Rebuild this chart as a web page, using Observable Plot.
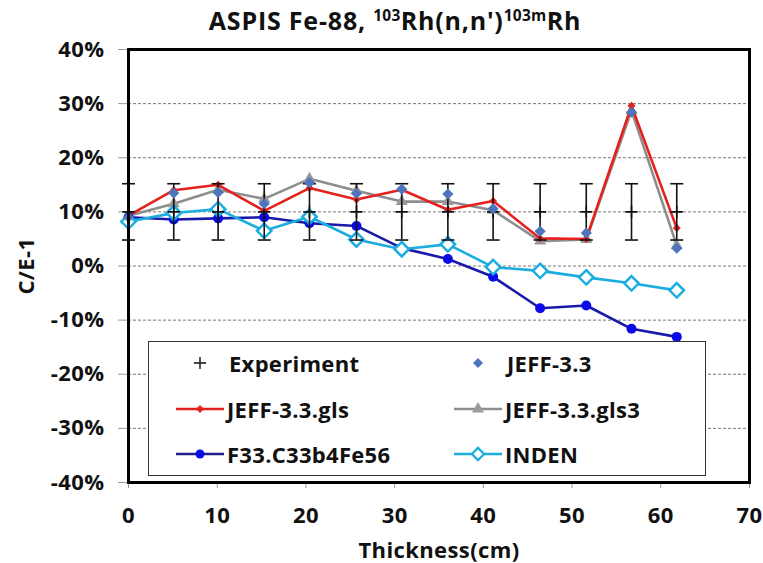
<!DOCTYPE html>
<html>
<head>
<meta charset="utf-8">
<script src="https://cdn.jsdelivr.net/npm/d3@7"></script>
<script src="https://cdn.jsdelivr.net/npm/@observablehq/plot@0.6"></script>
<style>
  body { margin: 0; background: #fff; }
  #wrap { position: relative; width: 763px; height: 563px; font-family: "Open Sans", sans-serif; }
  #title { position: absolute; left: 0; width: 790px; top: 3px; text-align: center; font-weight: 700; font-size: 25px; letter-spacing: 0.8px; color: #111; }
  #title sup { font-size: 0.62em; vertical-align: 0.55em; line-height: 0; letter-spacing: 0.3px; }
  #legend { position: absolute; left: 148px; top: 341px; width: 556px; height: 133px; border: 1.5px solid #333; background: #fff; box-sizing: content-box; }
  .item { position: absolute; display: flex; align-items: center; font-weight: 700; font-size: 22px; letter-spacing: 0.3px; color: #111; height: 30px; }
  .item svg { flex: none; }
  svg text { letter-spacing: 0.4px; }
</style>
</head>
<body>
<div id="wrap">
  <div id="chart"></div>
  <div id="title">ASPIS Fe-88, <sup>103</sup>Rh(n,n')<sup>103m</sup>Rh</div>
  <div id="legend"></div>
</div>
<script>
// Thickness (cm) of each measurement position
const thickness = [0, 5.1, 10.1, 15.3, 20.4, 25.7, 30.8, 36.0, 41.1, 46.4, 51.6, 56.7, 61.8];
// C/E-1 in percent
const experiment    = [10, 10, 10, 10, 10, 10, 10, 10, 10, 10, 10, 10, 10];
const experimentErr = [5.2, 5.2, 5.2, 5.2, 5.2, 5.2, 5.2, 5.2, 5.2, 5.2, 5.2, 5.2, 5.2];
const jeff33     = [9.0, 13.5, 13.6, 11.5, 15.4, 13.4, 14.2, 13.3, 10.6, 6.4, 6.1, 28.4, 3.3];
const jeff33gls  = [9.3, 14.0, 15.0, 10.2, 14.4, 12.3, 14.1, 10.4, 12.0, 5.1, 5.0, 29.6, 7.0];
const jeff33gls3 = [9.3, 11.5, 14.1, 12.4, 16.1, 13.9, 11.9, 11.9, 10.3, 4.6, 4.9, 28.7, 3.8];
const f33        = [9.0, 8.6, 8.8, 9.0, 7.9, 7.4, 3.3, 1.3, -2.0, -7.8, -7.3, -11.6, -13.1];
const inden      = [8.2, 9.8, 10.5, 6.5, 9.1, 4.9, 3.1, 4.0, -0.2, -0.9, -2.1, -3.2, -4.5];

const xTicks = [0, 10, 20, 30, 40, 50, 60, 70];
const yTicks = [-40, -30, -20, -10, 0, 10, 20, 30, 40];
const gridTicks = [-30, -20, -10, 0, 10, 20, 30];

const seriesNames = ["Experiment", "JEFF-3.3", "JEFF-3.3.gls", "JEFF-3.3.gls3", "F33.C33b4Fe56", "INDEN"];

const toRows = (vals) => thickness.map((x, i) => ({x, y: vals[i]}));
const expRows = thickness.map((x, i) => ({x, y: experiment[i], lo: experiment[i] - experimentErr[i], hi: experiment[i] + experimentErr[i]}));

const cap = { draw(ctx, size) { const w = Math.sqrt(size / Math.PI); ctx.moveTo(-w, 0); ctx.lineTo(w, 0); } };

const C = {
  red: "#E5211D", gray: "#8E8E8E", grayMk: "#9A9A9A", jeff: "#4E74BE",
  f33Line: "#1A1AA8", f33Mk: "#0A0AE6", inden: "#1BADE0"
};

const chart = Plot.plot({
  width: 763, height: 563,
  marginLeft: 128, marginRight: 14, marginTop: 49, marginBottom: 81,
  style: { fontFamily: "Open Sans, sans-serif", fontSize: "22px", fontWeight: "700", color: "#111", background: "#fff" },
  x: { domain: [0, 70] },
  y: { domain: [-40, 40] },
  marks: [
    Plot.gridY(gridTicks, { stroke: "#777", strokeOpacity: 1, strokeWidth: 1, strokeDasharray: "3,2" }),
    Plot.axisX(xTicks, { tickSize: 6, tickPadding: 19, stroke: "#999", label: "Thickness(cm)", labelAnchor: "center", labelArrow: "none", labelOffset: 75, fontSize: 22 }),
    Plot.axisY(yTicks, { tickSize: 10, tickPadding: 14, stroke: "#999", tickFormat: d => d + "%", label: "C/E-1", labelAnchor: "center", labelArrow: "none", labelOffset: 110, fontSize: 22 }),
    // lines
    Plot.line(toRows(jeff33gls3), { x: "x", y: "y", stroke: C.gray, strokeWidth: 2.6 }),
    Plot.dot(toRows(jeff33gls3), { x: "x", y: "y", symbol: "triangle", r: 4.5, fill: C.grayMk }),
    Plot.line(toRows(jeff33gls), { x: "x", y: "y", stroke: C.red, strokeWidth: 2.6 }),
    Plot.dot(toRows(jeff33gls), { x: "x", y: "y", symbol: "diamond2", r: 3.6, fill: C.red }),
    Plot.line(toRows(f33), { x: "x", y: "y", stroke: C.f33Line, strokeWidth: 2.6 }),
    Plot.dot(toRows(f33), { x: "x", y: "y", symbol: "circle", r: 5, fill: C.f33Mk }),
    Plot.line(toRows(inden), { x: "x", y: "y", stroke: C.inden, strokeWidth: 2.6 }),
    Plot.dot(toRows(inden), { x: "x", y: "y", symbol: "diamond2", r: 6.5, fill: "#fff", stroke: C.inden, strokeWidth: 2.5 }),
    // experiment
    Plot.ruleX(expRows, { x: "x", y1: "lo", y2: "hi", stroke: "#111", strokeWidth: 1.6 }),
    Plot.dot(expRows, { x: "x", y: "lo", symbol: cap, r: 6.5, stroke: "#111", strokeWidth: 1.6 }),
    Plot.dot(expRows, { x: "x", y: "hi", symbol: cap, r: 6.5, stroke: "#111", strokeWidth: 1.6 }),
    Plot.dot(expRows, { x: "x", y: "y", symbol: "plus", r: 4, stroke: "#111", strokeWidth: 1.6 }),
    // JEFF-3.3 markers only
    Plot.dot(toRows(jeff33), { x: "x", y: "y", symbol: "diamond2", r: 5, fill: C.jeff }),
    Plot.frame({ stroke: "#000", strokeWidth: 3 })
  ]
});
document.getElementById("chart").appendChild(chart);

// Legend
const legendItems = [
  { name: seriesNames[0], col: 0, row: 0, line: null, mk: "plus", fill: "none", stroke: "#111", r: 4 },
  { name: seriesNames[1], col: 1, row: 0, line: null, mk: "diamond2", fill: C.jeff, stroke: "none", r: 4.5 },
  { name: seriesNames[2], col: 0, row: 1, line: C.red, mk: "diamond2", fill: C.red, stroke: "none", r: 3.6 },
  { name: seriesNames[3], col: 1, row: 1, line: C.gray, mk: "triangle", fill: C.grayMk, stroke: "none", r: 4.5 },
  { name: seriesNames[4], col: 0, row: 2, line: "#202088", mk: "circle", fill: C.f33Mk, stroke: "none", r: 4.5 },
  { name: seriesNames[5], col: 1, row: 2, line: C.inden, mk: "diamond2", fill: "#fff", stroke: C.inden, r: 5.5 }
];
const symbolMap = { plus: d3.symbolPlus, diamond2: d3.symbolDiamond2, triangle: d3.symbolTriangle, circle: d3.symbolCircle };
const legend = d3.select("#legend");
legendItems.forEach(it => {
  const div = legend.append("div").attr("class", "item")
    .style("left", (it.col === 0 ? 26 : 304) + "px")
    .style("top", (6 + it.row * 45.5) + "px");
  const svg = div.append("svg").attr("width", 50).attr("height", 30);
  if (it.line) svg.append("line").attr("x1", 1).attr("x2", 49).attr("y1", 15).attr("y2", 15).attr("stroke", it.line).attr("stroke-width", 2.5);
  svg.append("path").attr("transform", "translate(25,15)")
    .attr("d", d3.symbol(symbolMap[it.mk], Math.PI * it.r * it.r)())
    .attr("fill", it.fill).attr("stroke", it.stroke).attr("stroke-width", it.mk === "plus" ? 1.4 : 2.2);
  div.append("span").style("margin-left", it.line ? "2px" : "4px").text(it.name);
});
</script>
</body>
</html>
